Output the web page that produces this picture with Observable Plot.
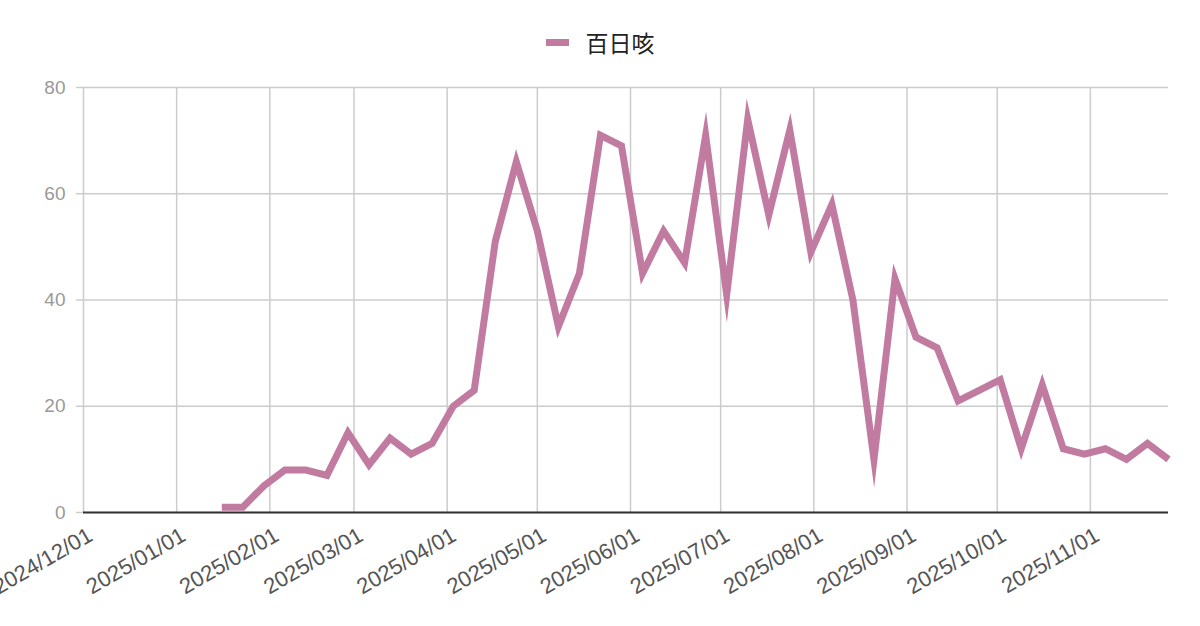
<!DOCTYPE html>
<html>
<head>
<meta charset="utf-8">
<script src="https://cdn.jsdelivr.net/npm/d3@7"></script>
<script src="https://cdn.jsdelivr.net/npm/@observablehq/plot@0.6"></script>
<style>
  html, body { margin: 0; padding: 0; background: #fff; }
  body { width: 1200px; height: 626px; overflow: hidden; font-family: "Liberation Sans", Arial, sans-serif; }
  #legend { height: 70px; display: flex; align-items: center; justify-content: center; padding-top: 14px; box-sizing: border-box; }
  #legend .sw { width: 23px; height: 7px; background: #c27ba0; margin-right: 17px; }
  #legend .lb { font-family: "Noto Sans CJK JP", "Noto Sans CJK SC", sans-serif; font-size: 23px; color: #222; line-height: 1; }
  svg { display: block; }
</style>
</head>
<body>
<div id="legend"><span class="sw"></span><span class="lb">百日咳</span></div>
<div id="chart"></div>
<script>
const seriesName = "百日咳";
const firstWeek = "2025-01-16";
const values = [1, 1, 5, 8, 8, 7, 15, 9, 14, 11, 13, 20, 23, 51, 66, 53, 35, 45, 71, 69,
                45, 53, 47, 71, 41, 74, 56, 72, 49, 58, 40, 10, 44, 33, 31, 21, 23, 25, 12, 24,
                12, 11, 12, 10, 13, 10];
const yTicks = [0, 20, 40, 60, 80];
const xStart = "2024-12-01";
const xEnd = "2025-11-27";

const start = new Date(firstWeek);
const data = values.map((v, i) => ({date: d3.utcDay.offset(start, i * 7), value: v}));
const x0 = new Date(xStart), x1 = new Date(xEnd);
const monthTicks = d3.utcMonth.range(x0, d3.utcDay.offset(x1, 1));

const chart = Plot.plot({
  width: 1200,
  height: 556,
  marginTop: 17,
  marginBottom: 114,
  marginLeft: 83,
  marginRight: 32,
  style: {fontFamily: '"Liberation Sans", Arial, sans-serif', overflow: "visible"},
  x: {type: "utc", domain: [x0, x1]},
  y: {domain: [0, 80]},
  marks: [
    Plot.gridX(monthTicks, {stroke: "#cccccc", strokeOpacity: 1, strokeWidth: 1.5}),
    Plot.gridY(yTicks, {stroke: "#cccccc", strokeOpacity: 1, strokeWidth: 1.5}),
    Plot.axisY(yTicks, {tickSize: 7, stroke: "#cccccc", strokeWidth: 1.5, tickPadding: 11, fill: "#999999", fontSize: 19, label: null}),
    Plot.axisX(monthTicks, {tickSize: 0, tickFormat: d3.utcFormat("%Y/%m/%d"), tickRotate: -30, fill: "#555555", fontSize: 22, label: null, tickPadding: 21, dx: 7}),
    Plot.ruleY([0], {stroke: "#333333", strokeWidth: 2}),
    Plot.line(data, {x: "date", y: "value", stroke: "#c27ba0", strokeWidth: 7, strokeLinejoin: "miter", strokeMiterlimit: 12, strokeLinecap: "butt", title: () => seriesName})
  ]
});
document.getElementById("chart").appendChild(chart);
</script>
</body>
</html>
